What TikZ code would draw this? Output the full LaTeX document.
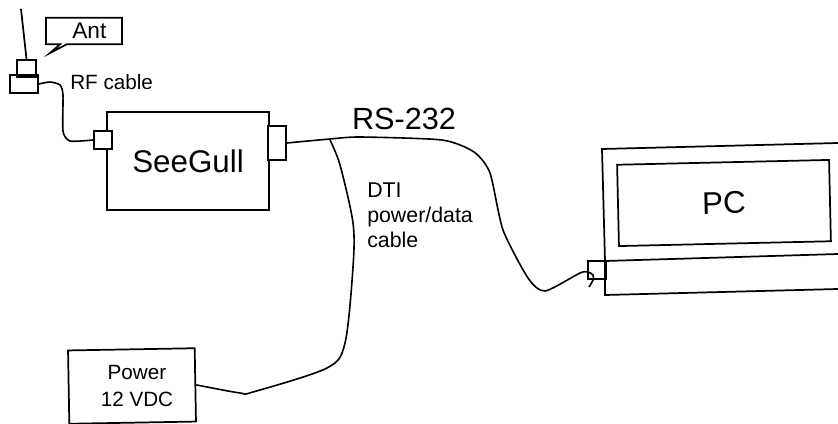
\documentclass[tikz,border=0pt]{standalone}
\usepackage{fontspec}
\setmainfont{Liberation Sans}
\usetikzlibrary{positioning,shapes.callouts}
\tikzset{box/.style={draw=black,line width=1.3pt,inner sep=0pt,align=center},cable/.style={line width=1.2pt},lab/.style={inner sep=0pt,align=left,font=\fontsize{15.5}{19}\selectfont},big/.style={font=\fontsize{23.5}{28}\selectfont}}
\begin{document}
\begin{tikzpicture}[x=0.75pt,y=-0.75pt]
\useasboundingbox (0,0) rectangle (838,424);
\node[box,big,minimum width=121.5pt,minimum height=74pt] (seegull) at (188,161) {\raisebox{-3pt}{SeeGull}};
\node[box,fill=white,minimum width=14pt,minimum height=13pt] (rfport) at (103,140) {};
\node[box,fill=white,minimum width=13.5pt,minimum height=25.5pt] (rsport) at (277,143) {};
\node[box,minimum width=95pt,minimum height=55pt,rotate=1] (power) at (132,386) {};
\node[lab,align=center,font=\fontsize{15.5}{20}\selectfont] (powerlab) at (137,386) {Power\\12 VDC};
\node[box,minimum width=14pt,minimum height=13pt] (anthead) at (26.5,68.5) {};
\node[box,minimum width=21pt,minimum height=13pt] (antbase) at (24,84) {};
\coordinate (anttip) at (21,9);
\draw[line width=1.3pt] (anttip) -- (anthead.north);
\node[rectangle callout,draw=black,line width=1.3pt,minimum width=57pt,minimum height=20pt,inner sep=0pt,callout absolute pointer={(50,53)},callout pointer width=5pt,font=\fontsize{17}{20}\selectfont] (ant) at (84,31) {\hspace*{8pt}Ant};
\node[lab,anchor=west] (rflab) at (70,82) {RF cable};
\node[inner sep=0pt,font=\fontsize{23}{28}\selectfont] (rslab) at (404,119) {RS-232};
\node[lab,font=\fontsize{16}{18.75}\selectfont,anchor=north west] (dtilab) at (367,183) {DTI\\power/data\\cable};
\node[box,big,minimum width=159pt,minimum height=61pt,rotate=1.3] (screen) at (724,203) {PC};
\coordinate (lidbl) at (605,261);
\coordinate (lidtl) at (602,149);
\coordinate (lidtr) at (838,143);
\coordinate (basetr) at (838,254);
\coordinate (basebr) at (838,289);
\coordinate (basebl) at (605,295);
\draw[line width=1.3pt] (lidtr) -- (lidtl) -- (lidbl) -- (basetr) (lidbl) -- (basebl) -- (basebr);
\node[box,minimum width=13.5pt,minimum height=13.5pt] (pcport) at (597,270) {};
\draw[cable] plot[smooth,tension=0.4] coordinates {(antbase.east) (50,82) (60,85) (63,95) (63,131) (70,141) (rfport.west)};
\draw[cable] plot[smooth,tension=0.4] coordinates {(rsport.east) (330,139) (360,137) (442,140) (474,152) (490,173) (503,230) (528,278) (545,291) (580,273) (588,272) (593,275) (593,280) (589,287)};
\draw[cable] plot[smooth,tension=0.5] coordinates {(330,140) (340,165) (353,223) (353,267) (345,343) (327,368) (253,392) (240,393) (power.east)};
\end{tikzpicture}
\end{document}
